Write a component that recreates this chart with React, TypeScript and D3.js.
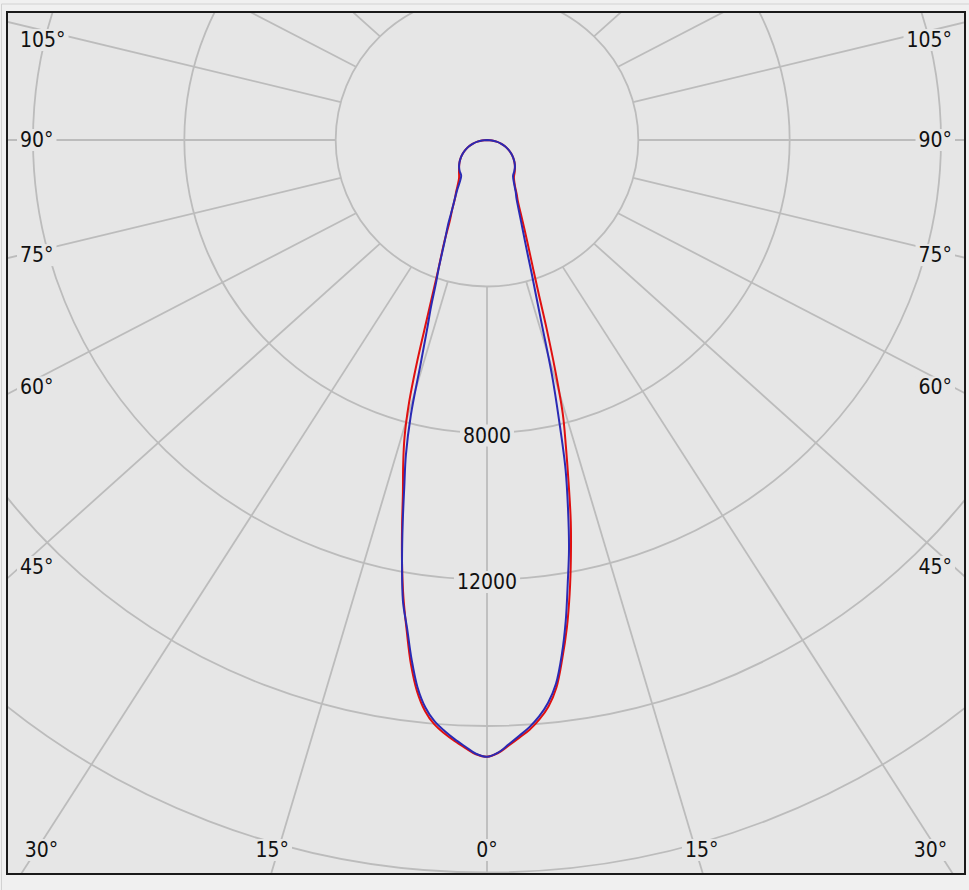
import React, { useEffect, useRef } from "react";
import * as d3 from "d3";

// Gamma angles (degrees from nadir) at which intensities are read
const gammaAngles = [0, 1, 2, 3, 4, 5, 6, 7, 8, 9, 10, 11, 12, 13, 14, 15, 16, 17, 18, 19, 20, 22, 24, 26, 28, 30, 35, 40, 45, 50, 55, 60, 65, 70, 75, 80, 85, 90];

// Red plane (left half = C180, right half = C0), cd
const redLeft = [16840, 16775, 16606, 16432, 16240, 16012, 15674, 15167, 14450, 13566, 12710, 11770, 10800, 9880, 9160, 8430, 7490, 6290, 5140, 4350, 3760, 3030, 2420, 2090, 1800, 1630, 1290, 1150, 1044, 949, 847, 738, 624, 505, 382, 256, 129, 0];
const redRight = [16840, 16740, 16540, 16340, 16140, 15880, 15550, 15060, 14300, 13490, 12580, 11620, 10650, 9580, 8620, 7740, 6540, 5400, 4430, 3790, 3330, 2660, 2190, 1860, 1670, 1490, 1240, 1140, 1044, 949, 847, 738, 624, 505, 382, 256, 129, 0];

// Blue plane (left half = C270, right half = C90), cd
const blueLeft = [16840, 16760, 16570, 16380, 16170, 15930, 15580, 15060, 14320, 13500, 12790, 11770, 10720, 9720, 8860, 7780, 6370, 5430, 4790, 4160, 3740, 2990, 2530, 2090, 1810, 1580, 1190, 1120, 1044, 949, 847, 738, 624, 505, 382, 256, 129, 0];
const blueRight = [16840, 16730, 16510, 16290, 16070, 15800, 15450, 14960, 14200, 13300, 12290, 11360, 10300, 9230, 7860, 6620, 5300, 4420, 3810, 3300, 2930, 2410, 2040, 1780, 1620, 1460, 1200, 1120, 1044, 949, 847, 738, 624, 505, 382, 256, 129, 0];

// Grid
const ringValues = [4000, 8000, 12000, 16000, 20000, 24000];
const ringLabelValues = [8000, 12000];
const spokeAngles = [0, 15, 30, 45, 60, 75, 90, 105, 120, 135, 150, 165, 180];
const sideLabelAngles = [45, 60, 75, 90, 105];
const bottomLabelAngles = [0, 15, 30];

const W = 969;
const H = 890;

export default function App() {
  const ref = useRef<SVGSVGElement>(null);

  useEffect(() => {
    const svg = d3.select(ref.current);
    svg.selectAll("*").remove();

    const frame = { x: 7, y: 12, w: 958, h: 862 };
    const cx = 487;
    const cy = 140;
    const kx = 1.033; // horizontal stretch of the polar grid
    const kxOuter = 1.1; // stretch used for the far end of spokes
    const rScale = d3.scaleLinear().domain([0, 4000]).range([0, 146.5]);
    const font = "'DejaVu Sans', Tahoma, sans-serif";
    const bg = "#e6e6e6";
    const gridColor = "#bcbcbc";

    const pt = (v: number, deg: number, side: number, k: number): [number, number] => {
      const r = rScale(v);
      const a = (deg * Math.PI) / 180;
      return [cx + side * k * r * Math.sin(a), cy + r * Math.cos(a)];
    };

    // page background
    svg.append("rect").attr("x", 0).attr("y", 0).attr("width", W).attr("height", H).attr("fill", "#f0f0f0");
    svg.append("line").attr("x1", 1.5).attr("y1", 4).attr("x2", 1.5).attr("y2", H).attr("stroke", "#d2d2d2").attr("stroke-width", 1);
    svg.append("line").attr("x1", 1.5).attr("y1", 4).attr("x2", W).attr("y2", 4).attr("stroke", "#d2d2d2").attr("stroke-width", 1);

    svg.append("rect").attr("x", frame.x).attr("y", frame.y).attr("width", frame.w).attr("height", frame.h).attr("fill", bg);

    const defs = svg.append("defs");
    defs.append("clipPath").attr("id", "frameClip")
      .append("rect").attr("x", frame.x).attr("y", frame.y).attr("width", frame.w).attr("height", frame.h);

    const g = svg.append("g").attr("clip-path", "url(#frameClip)");

    // rings
    g.selectAll("ellipse.ring").data(ringValues).enter().append("ellipse")
      .attr("cx", cx).attr("cy", cy)
      .attr("rx", (d) => kx * rScale(d)).attr("ry", (d) => rScale(d))
      .attr("fill", "none").attr("stroke", gridColor).attr("stroke-width", 1.8);

    // spokes
    const spokes: { deg: number; side: number }[] = [];
    spokeAngles.forEach((deg) => {
      if (deg === 0 || deg === 180) spokes.push({ deg, side: 1 });
      else { spokes.push({ deg, side: -1 }); spokes.push({ deg, side: 1 }); }
    });
    const spokeEnds = (deg: number, side: number) => {
      const p1 = pt(ringValues[0], deg, side, kx);
      const p2 = pt(24000, deg, side, kxOuter);
      return [p1, p2];
    };
    g.selectAll("line.spoke").data(spokes).enter().append("line")
      .attr("x1", (d) => spokeEnds(d.deg, d.side)[0][0])
      .attr("y1", (d) => spokeEnds(d.deg, d.side)[0][1])
      .attr("x2", (d) => spokeEnds(d.deg, d.side)[1][0])
      .attr("y2", (d) => spokeEnds(d.deg, d.side)[1][1])
      .attr("stroke", gridColor).attr("stroke-width", 1.8);

    // curves
    const buildPts = (left: number[], right: number[]) => {
      const pts: [number, number][] = [];
      for (let i = gammaAngles.length - 1; i >= 0; i--) pts.push(pt(left[i], gammaAngles[i], -1, kx));
      for (let i = 1; i < gammaAngles.length; i++) pts.push(pt(right[i], gammaAngles[i], 1, kx));
      return pts;
    };
    const line = d3.line().curve(d3.curveCatmullRom.alpha(0.5));
    g.append("path").attr("d", line(buildPts(redLeft, redRight)) || "")
      .attr("fill", "none").attr("stroke", "#e01010").attr("stroke-width", 2);
    g.append("path").attr("d", line(buildPts(blueLeft, blueRight)) || "")
      .attr("fill", "none").attr("stroke", "#2a2ab4").attr("stroke-width", 2);

    // labels with background
    const labels = svg.append("g");
    const addLabel = (text: string, x: number, y: number, anchor: string) => {
      const grp = labels.append("g");
      const rect = grp.append("rect").attr("fill", bg);
      const t = grp.append("text").text(text)
        .attr("x", x).attr("y", y)
        .attr("text-anchor", anchor)
        .attr("dominant-baseline", "central")
        .attr("font-family", font).attr("font-stretch", "condensed")
        .attr("font-size", 21).attr("fill", "#111");
      const bb = (t.node() as SVGTextElement).getBBox();
      rect.attr("x", bb.x - 3).attr("y", bb.y + 1).attr("width", bb.width + 6).attr("height", bb.height - 2);
      return bb;
    };

    ringLabelValues.forEach((v) => {
      addLabel(String(v), cx, cy + rScale(v) + 2.5, "middle");
    });

    const spokeYAt = (deg: number, side: number, x: number) => {
      const [p1, p2] = spokeEnds(deg, side);
      const t = (x - p1[0]) / (p2[0] - p1[0]);
      return p1[1] + t * (p2[1] - p1[1]);
    };
    const spokeXAt = (deg: number, side: number, y: number) => {
      const [p1, p2] = spokeEnds(deg, side);
      const t = (y - p1[1]) / (p2[1] - p1[1]);
      return p1[0] + t * (p2[0] - p1[0]);
    };

    const leftX = 20;
    const rightX = 952;
    sideLabelAngles.forEach((deg) => {
      const yl = Math.max(40, spokeYAt(deg, -1, leftX));
      addLabel(`${deg}°`, leftX, yl, "start");
      const yr = Math.max(40, spokeYAt(deg, 1, rightX + 2));
      addLabel(`${deg}°`, rightX, yr, "end");
    });

    const bottomY = 850;
    bottomLabelAngles.forEach((deg) => {
      const sides = deg === 0 ? [1] : [-1, 1];
      sides.forEach((side) => {
        const txt = `${deg}°`;
        const approxW = 33;
        let x = deg === 0 ? cx : spokeXAt(deg, side, 870);
        x = Math.max(leftX + approxW / 2 + 5, Math.min(rightX - approxW / 2 - 5, x));
        addLabel(txt, x, bottomY, "middle");
      });
    });

    // frame border
    svg.append("rect").attr("x", frame.x).attr("y", frame.y).attr("width", frame.w).attr("height", frame.h)
      .attr("fill", "none").attr("stroke", "#1a1a1a").attr("stroke-width", 2);
  }, []);

  return (
    <div style={{ position: "absolute", left: 0, top: 0 }}>
      <svg ref={ref} width={W} height={H} style={{ display: "block" }} />
    </div>
  );
}
